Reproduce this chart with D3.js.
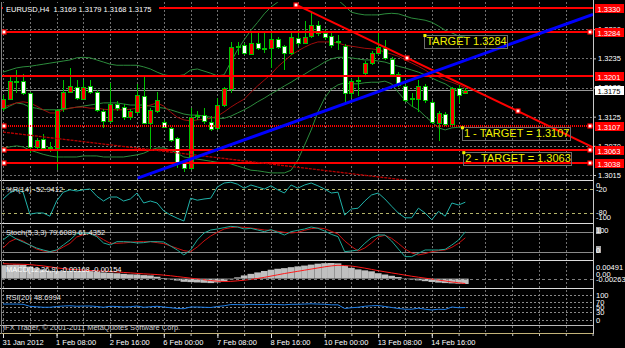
<!DOCTYPE html>
<html>
<head>
<meta charset="utf-8">
<script src="https://d3js.org/d3.v7.min.js"></script>
<style>
  html, body { margin: 0; padding: 0; background: #000; }
  svg { display: block; }
  text { font-family: "Liberation Sans", Arial, sans-serif; font-size: 7.5px; }
</style>
</head>
<body>
<svg id="chart" width="625" height="348"></svg>
<script>
'use strict';

/* Data: EURUSD H4, one entry per bar (31 Jan 2012 00:00 onwards) */
var opens = [1.3141,1.3158,1.3192,1.3192,1.3170,1.3068,1.3083,1.3066,1.3066,1.3141,
  1.3172,1.3181,1.3158,1.3183,1.3172,1.3136,1.3117,1.3149,1.3143,1.3124,
  1.3134,1.3164,1.3113,1.3136,1.3115,1.3104,1.3085,1.3039,1.3028,1.3126,
  1.3128,1.3115,1.3104,1.3147,1.3177,1.3256,1.3260,1.3243,1.3264,1.3255,
  1.3255,1.3272,1.3258,1.3245,1.3273,1.3264,1.3277,1.3298,1.3283,1.3277,
  1.3268,1.3258,1.3170,1.3192,1.3207,1.3226,1.3245,1.3255,1.3234,1.3205,
  1.3183,1.3160,1.3158,1.3183,1.3153,1.3113,1.3130,1.3111,1.3179,1.3169];
var highs = [1.3166,1.3200,1.3213,1.3205,1.3172,1.3085,1.3092,1.3077,1.3140,1.3194,
  1.3217,1.3194,1.3194,1.3194,1.3175,1.3140,1.3189,1.3155,1.3149,1.3140,
  1.3187,1.3200,1.3141,1.3172,1.3119,1.3106,1.3087,1.3043,1.3141,1.3136,
  1.3141,1.3126,1.3160,1.3181,1.3266,1.3266,1.3264,1.3285,1.3285,1.3283,
  1.3285,1.3275,1.3260,1.3283,1.3289,1.3305,1.3322,1.3305,1.3290,1.3285,
  1.3279,1.3262,1.3196,1.3202,1.3230,1.3249,1.3283,1.3270,1.3238,1.3209,
  1.3187,1.3170,1.3194,1.3187,1.3157,1.3136,1.3134,1.3181,1.3185,1.3179];
var lows = [1.3136,1.3156,1.3170,1.3166,1.3056,1.3064,1.3062,1.3058,1.3024,1.3134,
  1.3170,1.3156,1.3156,1.3168,1.3134,1.3104,1.3113,1.3136,1.3119,1.3119,
  1.3130,1.3111,1.3062,1.3132,1.3104,1.3077,1.3028,1.3021,1.3024,1.3119,
  1.3111,1.3098,1.3100,1.3143,1.3170,1.3241,1.3241,1.3241,1.3250,1.3245,
  1.3217,1.3252,1.3213,1.3241,1.3258,1.3262,1.3273,1.3277,1.3270,1.3255,
  1.3251,1.3153,1.3160,1.3164,1.3203,1.3222,1.3241,1.3232,1.3200,1.3181,
  1.3153,1.3143,1.3134,1.3151,1.3111,1.3079,1.3107,1.3107,1.3151,1.3168];
var closes = [1.3158,1.3192,1.3190,1.3170,1.3068,1.3081,1.3066,1.3068,1.3138,1.3172,
  1.3183,1.3160,1.3181,1.3172,1.3138,1.3117,1.3149,1.3141,1.3124,1.3136,
  1.3166,1.3113,1.3138,1.3156,1.3106,1.3081,1.3039,1.3028,1.3124,1.3128,
  1.3117,1.3102,1.3147,1.3179,1.3256,1.3258,1.3245,1.3264,1.3255,1.3253,
  1.3272,1.3256,1.3245,1.3275,1.3264,1.3275,1.3298,1.3283,1.3275,1.3260,
  1.3266,1.3170,1.3192,1.3194,1.3226,1.3245,1.3256,1.3236,1.3205,1.3185,
  1.3156,1.3158,1.3183,1.3156,1.3115,1.3132,1.3111,1.3179,1.3166,1.3175];

var bbUpper = [1.3209,1.3213,1.3217,1.3219,1.3220,1.3222,1.3224,1.3226,1.3228,1.3230,
  1.3232,1.3236,1.3237,1.3236,1.3232,1.3228,1.3224,1.3222,1.3222,1.3222,
  1.3222,1.3219,1.3215,1.3209,1.3204,1.3202,1.3202,1.3204,1.3213,1.3215,
  1.3211,1.3207,1.3202,1.3204,1.3228,1.3251,1.3270,1.3288,1.3303,1.3319,
  1.3332,1.3341,1.3351,1.3356,1.3360,1.3360,1.3358,1.3356,1.3356,1.3351,
  1.3345,1.3334,1.3322,1.3319,1.3317,1.3317,1.3317,1.3319,1.3320,1.3319,
  1.3315,1.3311,1.3309,1.3307,1.3303,1.3296,1.3288,1.3283,1.3277,1.3275];
var bbLower = [1.3066,1.3068,1.3070,1.3068,1.3062,1.3058,1.3054,1.3051,1.3049,1.3049,
  1.3049,1.3049,1.3051,1.3051,1.3051,1.3049,1.3049,1.3049,1.3049,1.3051,
  1.3053,1.3056,1.3062,1.3066,1.3066,1.3062,1.3056,1.3049,1.3047,1.3045,
  1.3043,1.3041,1.3039,1.3038,1.3036,1.3032,1.3028,1.3024,1.3023,1.3021,
  1.3019,1.3019,1.3019,1.3024,1.3043,1.3071,1.3100,1.3134,1.3160,1.3177,
  1.3185,1.3189,1.3187,1.3187,1.3189,1.3190,1.3190,1.3192,1.3187,1.3171,
  1.3156,1.3145,1.3138,1.3126,1.3115,1.3104,1.3100,1.3104,1.3105,1.3105];
var maRed = [1.3143,1.3147,1.3151,1.3153,1.3151,1.3145,1.3138,1.3132,1.3132,1.3138,
  1.3141,1.3143,1.3143,1.3141,1.3141,1.3139,1.3138,1.3138,1.3138,1.3139,
  1.3141,1.3143,1.3147,1.3151,1.3145,1.3134,1.3124,1.3119,1.3117,1.3119,
  1.3120,1.3122,1.3126,1.3134,1.3143,1.3151,1.3158,1.3171,1.3183,1.3194,
  1.3205,1.3219,1.3230,1.3241,1.3249,1.3256,1.3262,1.3266,1.3266,1.3266,
  1.3264,1.3260,1.3258,1.3256,1.3254,1.3253,1.3251,1.3247,1.3243,1.3239,
  1.3232,1.3226,1.3220,1.3213,1.3205,1.3200,1.3194,1.3190,1.3185,1.3179];
var maGreen = [1.3138,1.3145,1.3151,1.3149,1.3143,1.3141,1.3138,1.3138,1.3138,1.3139,
  1.3141,1.3143,1.3145,1.3147,1.3149,1.3151,1.3151,1.3151,1.3149,1.3147,
  1.3147,1.3147,1.3145,1.3143,1.3141,1.3138,1.3134,1.3130,1.3128,1.3128,
  1.3126,1.3124,1.3122,1.3122,1.3126,1.3132,1.3138,1.3145,1.3153,1.3160,
  1.3168,1.3175,1.3183,1.3190,1.3198,1.3205,1.3213,1.3220,1.3228,1.3234,
  1.3237,1.3237,1.3236,1.3234,1.3232,1.3232,1.3230,1.3228,1.3224,1.3220,
  1.3217,1.3213,1.3209,1.3204,1.3198,1.3192,1.3187,1.3179,1.3173,1.3170];

var wpr = [-45,-30,-22,-28,-83,-80,-80,-88,-50,-28,
  -22,-25,-22,-20,-38,-50,-40,-40,-50,-45,
  -30,-55,-50,-55,-75,-85,-93,-100,-43,-48,
  -45,-43,-15,-5,-3,-8,-18,-10,-15,-20,
  -12,-22,-30,-10,-18,-10,-5,-12,-20,-30,
  -28,-85,-70,-68,-50,-35,-30,-45,-63,-80,
  -92,-92,-68,-80,-97,-76,-88,-55,-60,-52.94];
var stochK = [55,70,58,49,40,31,25,20,25,40,
  55,74,76,74,65,46,40,50,50,49,
  46,47,50,50,49,37,25,10,25,55,
  76,85,88,92,96,94,88,90,85,80,
  86,78,70,80,84,88,94,90,82,72,
  65,20,22,25,45,62,70,70,52,28,
  5,5,15,25,25,25,27,40,55,79.61];
var stochD = [31,50,59,52,40,28,22,20,23,34,
  45,64,71,75,68,56,45,45,46,48,
  50,50,50,47,44,37,30,23,20,34,
  52,67,78,88,92,94,93,91,88,85,
  84,81,78,76,78,84,89,91,89,81,
  73,52,36,22,31,46,64,69,60,45,
  28,16,10,14,20,23,25,33,45,61.44];
var macdMain = [0.00420,0.00430,0.00440,0.00430,0.00380,0.00330,0.00290,0.00250,0.00240,0.00240,
  0.00245,0.00240,0.00240,0.00235,0.00220,0.00195,0.00185,0.00170,0.00150,0.00135,
  0.00130,0.00110,0.00100,0.00060,0.00020,-0.00020,-0.00060,-0.00100,-0.00110,-0.00120,
  -0.00130,-0.00140,-0.00120,-0.00090,-0.00020,0.00040,0.00100,0.00150,0.00195,0.00240,
  0.00280,0.00310,0.00330,0.00360,0.00385,0.00410,0.00440,0.00470,0.00485,0.00491,
  0.00480,0.00400,0.00340,0.00290,0.00260,0.00230,0.00170,0.00130,0.00090,0.00050,
  0.00010,-0.00025,-0.00055,-0.00080,-0.00105,-0.00125,-0.00140,-0.00150,-0.00160,-0.00168];
var macdSignal = [0.00470,0.00460,0.00455,0.00450,0.00440,0.00420,0.00400,0.00370,0.00340,0.00315,
  0.00295,0.00280,0.00268,0.00255,0.00245,0.00235,0.00222,0.00210,0.00195,0.00180,
  0.00165,0.00150,0.00140,0.00128,0.00110,0.00090,0.00065,0.00040,0.00015,-0.00010,
  -0.00035,-0.00060,-0.00080,-0.00090,-0.00085,-0.00070,-0.00050,-0.00025,0.00005,0.00040,
  0.00080,0.00120,0.00160,0.00195,0.00230,0.00265,0.00300,0.00335,0.00370,0.00400,
  0.00420,0.00410,0.00395,0.00365,0.00330,0.00290,0.00250,0.00215,0.00180,0.00145,
  0.00110,0.00075,0.00045,0.00015,-0.00015,-0.00045,-0.00075,-0.00105,-0.00130,-0.00154];
var rsi = [63,63,63,62,54,52,50,50,53,55,
  56,54,55,55,53,50,54,53,51,52,
  55,50,52,54,51,48,45,44,51,51,
  50,49,53,56,61,61,60,62,61,61,
  62,61,60,62,62,63,64,63,62,60,
  60,45,48,50,54,56,57,53,49,45,
  42,42,46,42,39,42,41,51,48,48.7];

var timeLabels = ["31 Jan 2012","1 Feb 08:00","2 Feb 16:00","6 Feb 00:00","7 Feb 08:00",
  "8 Feb 16:00","10 Feb 00:00","13 Feb 08:00","14 Feb 16:00"];
var timeLabelBars = [0, 8, 16, 24, 32, 40, 48, 56, 64];
var priceTicks = [1.3015, 1.3070, 1.3125, 1.3180, 1.3235, 1.3290];
var levelPrices = [1.3330, 1.3284, 1.3201, 1.3107, 1.3063, 1.3038];
var levelDotted = [false, false, false, true, false, false];
var levelMarked = [false, true, false, true, true, true];
var lastPrice = 1.3175;
var trendBlue = [[20.1, 1.3009], [88.06, 1.3318]];
var trendRed = [[43.8, 1.3336], [76.9, 1.3135]];
var trendThin = [[0, 1.3096], [56.3, 1.3011]];
var targetTexts = ["TARGET 1.3284", "1 - TARGET = 1.3107", "2 - TARGET = 1.3063"];
var targetBars = [62.9, 68.5, 68.7];
var targetPrices = [1.3279, 1.3105, 1.3058];

/* Scales */
var RIGHT = 593;
var svg = d3.select("#chart");
svg.append("rect").attr("width", 625).attr("height", 348).attr("fill", "#000");

var x = d3.scaleLinear().domain([0, 88]).range([3, 592.6]);
var y = d3.scaleLinear().domain([1.3015, 1.3330]).range([175, 8]);
var yWpr = d3.scaleLinear().domain([-100, 0]).range([221, 181]);
var ySto = d3.scaleLinear().domain([0, 100]).range([258.3, 225]);
var yMacd = d3.scaleLinear().domain([-0.00263, 0.00491]).range([287, 263]);
var yRsi = d3.scaleLinear().domain([0, 100]).range([319.5, 295]);
var px = function(i) { return Math.round(x(i)) + 0.5; };
var crisp = function(v) { return Math.round(v) + 0.5; };

var defs = svg.append("defs");
function clip(id, y0, y1) {
  defs.append("clipPath").attr("id", id).append("rect")
    .attr("x", 2).attr("y", y0).attr("width", RIGHT - 2).attr("height", y1 - y0);
}
clip("cMain", 2, 180); clip("cWpr", 181, 223); clip("cSto", 224, 260);
clip("cMacd", 261, 288); clip("cRsi", 289, 333);

/* Grid */
var grid = svg.append("g").attr("stroke", "#707070").attr("stroke-dasharray", "2,2")
  .attr("shape-rendering", "crispEdges");
grid.selectAll("line.v").data(d3.range(0, 89, 4)).join("line").attr("class", "v")
  .attr("x1", px).attr("x2", px).attr("y1", 2).attr("y2", 333);
grid.selectAll("line.h").data(priceTicks).join("line").attr("class", "h")
  .attr("x1", 2).attr("x2", RIGHT)
  .attr("y1", function(d) { return crisp(y(d)); }).attr("y2", function(d) { return crisp(y(d)); });

/* Main window */
var gMain = svg.append("g").attr("clip-path", "url(#cMain)");
function series(g, arr, sy, color, w) {
  g.append("path").datum(arr)
    .attr("fill", "none").attr("stroke", color).attr("stroke-width", w || 1)
    .attr("d", d3.line().x(function(d, i) { return x(i); }).y(function(d) { return sy(d); }));
}

gMain.append("line").attr("x1", 2).attr("x2", RIGHT)
  .attr("y1", crisp(y(lastPrice))).attr("y2", crisp(y(lastPrice)))
  .attr("stroke", "#9a9a9a").attr("shape-rendering", "crispEdges");

series(gMain, bbUpper, y, "#2c8c3c");
series(gMain, bbLower, y, "#2c8c3c");
series(gMain, maGreen, y, "#2c8c3c");
series(gMain, maRed, y, "#a00c0c");

var bars = opens.map(function(o, i) {
  return { i: i, o: o, h: highs[i], l: lows[i], c: closes[i] };
});
var gBars = gMain.append("g").attr("shape-rendering", "crispEdges");
gBars.selectAll("line").data(bars).join("line")
  .attr("x1", function(d) { return px(d.i); }).attr("x2", function(d) { return px(d.i); })
  .attr("y1", function(d) { return Math.round(y(d.h)); })
  .attr("y2", function(d) { return Math.round(y(d.l)); })
  .attr("stroke", "#00c000");
gBars.selectAll("rect").data(bars).join("rect")
  .attr("x", function(d) { return Math.round(x(d.i)) - 1.5; })
  .attr("y", function(d) { return Math.round(y(Math.max(d.o, d.c))) + 0.5; })
  .attr("width", 4)
  .attr("height", function(d) {
    return Math.max(0.01, Math.round(y(Math.min(d.o, d.c))) - Math.round(y(Math.max(d.o, d.c))));
  })
  .attr("fill", function(d) { return d.c >= d.o ? "#ff0000" : "#ffffff"; })
  .attr("stroke", "#00c000");

/* Objects: horizontal levels, trend lines, marks */
var gObj = svg.append("g").attr("clip-path", "url(#cMain)");
levelPrices.forEach(function(p, k) {
  gObj.append("line").attr("x1", 2).attr("x2", RIGHT)
    .attr("y1", Math.round(y(p))).attr("y2", Math.round(y(p)))
    .attr("stroke", "#ff0000").attr("stroke-width", 2)
    .attr("stroke-dasharray", levelDotted[k] ? "1,1" : null);
});

function ray(t, color, w, dash) {
  var i1 = t[0][0], p1 = t[0][1], i2 = t[1][0], p2 = t[1][1];
  var iEnd = x.invert(RIGHT);
  var pEnd = p1 + (p2 - p1) * (iEnd - i1) / (i2 - i1);
  gObj.append("line")
    .attr("x1", x(i1)).attr("y1", y(p1)).attr("x2", x(iEnd)).attr("y2", y(pEnd))
    .attr("stroke", color).attr("stroke-width", w).attr("stroke-dasharray", dash || null);
}
ray(trendThin, "#b80000", 1.3, "3,1");
ray(trendRed, "#ff0000", 2);
ray(trendBlue, "#0000ff", 3);

function mark(cx, cy) {
  gObj.append("rect").attr("x", Math.round(cx) - 2).attr("y", Math.round(cy) - 2)
    .attr("width", 4).attr("height", 4).attr("fill", "#ffffff")
    .attr("stroke", "#ff0000").attr("stroke-width", 1.2);
}
levelPrices.forEach(function(p, k) {
  if (!levelMarked[k]) return;
  mark(4, y(p));
  mark(590, y(p));
});
var tMid = [(trendRed[0][0] + trendRed[1][0]) / 2, (trendRed[0][1] + trendRed[1][1]) / 2];
[trendRed[0], tMid, trendRed[1]].forEach(function(a) { mark(x(a[0]), y(a[1])); });

/* Text objects */
targetTexts.forEach(function(t, k) {
  var tx = x(targetBars[k]), ty = y(targetPrices[k]);
  var txt = gObj.append("text").attr("x", tx + 2).attr("y", ty + 10)
    .attr("fill", "#f2f200").style("font-size", "11px").text(t);
  var w = txt.node().getComputedTextLength();
  gObj.insert("rect", "text").attr("x", crisp(tx)).attr("y", crisp(ty))
    .attr("width", Math.round(w + 3)).attr("height", 13)
    .attr("fill", "none").attr("stroke", "#6c6c6c");
  gObj.append("rect").attr("x", tx - 1).attr("y", ty - 1).attr("width", 3).attr("height", 3)
    .attr("fill", "#f2f200");
});

/* Price scale */
var axR = svg.append("g").attr("transform", "translate(" + RIGHT + ",0)")
  .call(d3.axisRight(y).tickValues(priceTicks).tickSize(3).tickFormat(d3.format(".4f")));
axR.select(".domain").remove();
axR.selectAll("line").attr("stroke", "#c8c8c8");
axR.selectAll("text").attr("fill", "#ffffff").attr("x", 5).style("font-size", "7.5px")
  .style("font-family", "Liberation Sans, Arial, sans-serif");

var tags = levelPrices.concat([lastPrice]);
tags.forEach(function(p) {
  var cy = Math.round(y(p));
  var cur = p === lastPrice;
  svg.append("rect").attr("x", 595).attr("y", cy - 4).attr("width", 29).attr("height", 9)
    .attr("fill", cur ? "#ffffff" : "#ff0000");
  svg.append("text").attr("x", 597.5).attr("y", cy + 3.5)
    .attr("fill", cur ? "#000000" : "#ffffff").text(d3.format(".4f")(p));
});

/* Williams %R */
var gW = svg.append("g");
[-20, -80].forEach(function(v) {
  gW.append("line").attr("x1", 2).attr("x2", RIGHT).attr("y1", crisp(yWpr(v))).attr("y2", crisp(yWpr(v)))
    .attr("stroke", "#b4b46a").attr("stroke-dasharray", "3,3").attr("shape-rendering", "crispEdges");
});
series(gW.append("g").attr("clip-path", "url(#cWpr)"), wpr, yWpr, "#20b2aa");
gW.append("text").attr("x", 6).attr("y", 192).attr("fill", "#e8e8e8").text("%R(14) -52.9412");
[["0", 188], ["-20", 192], ["-80", 215], ["-100", 219.5]].forEach(function(l) {
  gW.append("text").attr("x", 596).attr("y", l[1]).attr("fill", "#ffffff").text(l[0]);
});

/* Stochastic */
var gS = svg.append("g");
[20, 80].forEach(function(v) {
  gS.append("line").attr("x1", 2).attr("x2", RIGHT).attr("y1", crisp(ySto(v))).attr("y2", crisp(ySto(v)))
    .attr("stroke", "#8a8a8a").attr("shape-rendering", "crispEdges");
});
var gSc = gS.append("g").attr("clip-path", "url(#cSto)");
series(gSc, stochD, ySto, "#cc1010");
series(gSc, stochK, ySto, "#1ea896");
gS.append("text").attr("x", 6).attr("y", 235).attr("fill", "#e8e8e8").text("Stoch(5,3,3) 79.6089 61.4352");
gS.append("rect").attr("x", 596).attr("y", 227).attr("width", 5).attr("height", 7).attr("fill", "#a8a8a8");
gS.append("rect").attr("x", 596).attr("y", 246).attr("width", 5).attr("height", 7).attr("fill", "#a8a8a8");
[["100", 233], ["0", 252.5]].forEach(function(l) {
  gS.append("text").attr("x", 596).attr("y", l[1]).attr("fill", "#ffffff").text(l[0]);
});

/* MACD */
var gM = svg.append("g");
var gMc = gM.append("g").attr("clip-path", "url(#cMacd)");
gMc.selectAll("rect").data(macdMain).join("rect")
  .attr("x", function(d, i) { return x(i) - 3.35; }).attr("width", 6.7)
  .attr("y", function(d) { return yMacd(Math.max(0, d)); })
  .attr("height", function(d) { return Math.abs(yMacd(d) - yMacd(0)); })
  .attr("fill", "#c0c0c0");
gM.append("line").attr("x1", 2).attr("x2", RIGHT).attr("y1", crisp(yMacd(0))).attr("y2", crisp(yMacd(0)))
  .attr("stroke", "#808080").attr("stroke-dasharray", "3,3").attr("shape-rendering", "crispEdges");
series(gMc, macdSignal, yMacd, "#ff1a1a");
gM.append("text").attr("x", 6).attr("y", 272).attr("fill", "#ffffff")
  .text("MACD(12,26,9) -0.00168 -0.00154");
[["0.00491", 270], ["0.00", 277], ["-0.00263", 282]].forEach(function(l) {
  gM.append("text").attr("x", 596).attr("y", l[1]).attr("fill", "#ffffff").text(l[0]);
});

/* RSI */
var gR = svg.append("g");
[100, 70, 50, 30, 0].forEach(function(v) {
  gR.append("line").attr("x1", 2).attr("x2", RIGHT).attr("y1", crisp(yRsi(v))).attr("y2", crisp(yRsi(v)))
    .attr("stroke", "#8a8a8a").attr("stroke-dasharray", "2,2").attr("shape-rendering", "crispEdges");
});
series(gR.append("g").attr("clip-path", "url(#cRsi)"), rsi, yRsi, "#1e7ee8");
gR.append("text").attr("x", 6).attr("y", 300).attr("fill", "#e8e8e8").text("RSI(20) 48.6994");
[100, 70, 50, 30, 0].forEach(function(v) {
  gR.append("text").attr("x", 596).attr("y", yRsi(v) + 3).attr("fill", "#ffffff").text(v);
});
svg.append("text").attr("x", 3).attr("y", 329.5).attr("fill", "#d0d0d0")
  .text("IFX Trader, \u00a9 2001-2011 MetaQuotes Software Corp.");

/* Frame and separators */
var frame = svg.append("g").attr("shape-rendering", "crispEdges");
[180.5, 223.5, 260.5, 288.5].forEach(function(v) {
  frame.append("line").attr("x1", 0).attr("x2", RIGHT).attr("y1", v).attr("y2", v)
    .attr("stroke", "#dcdcdc").attr("stroke-width", 1.5);
});
frame.append("line").attr("x1", 0).attr("x2", RIGHT).attr("y1", 325.5).attr("y2", 325.5).attr("stroke", "#b8b8b8");
frame.append("line").attr("x1", 0).attr("x2", RIGHT).attr("y1", 333.5).attr("y2", 333.5).attr("stroke", "#c4b47a");
frame.append("line").attr("x1", RIGHT + 0.5).attr("x2", RIGHT + 0.5).attr("y1", 0).attr("y2", 334).attr("stroke", "#c8c8c8");
frame.append("line").attr("x1", 1.5).attr("x2", 1.5).attr("y1", 2).attr("y2", 334).attr("stroke", "#808080");

/* Time axis */
var axMinor = svg.append("g").attr("transform", "translate(0,334)")
  .call(d3.axisBottom(x).tickValues(d3.range(0, 89, 4)).tickSize(2).tickFormat(""));
axMinor.select(".domain").remove();
axMinor.selectAll("line").attr("stroke", "#c8c8c8");
var axB = svg.append("g").attr("transform", "translate(0,334)")
  .call(d3.axisBottom(x).tickValues(timeLabelBars).tickSize(4)
    .tickFormat(function(d, k) { return timeLabels[k]; }));
axB.select(".domain").remove();
axB.selectAll("line").attr("stroke", "#e0e0e0");
axB.selectAll("text").attr("fill", "#ffffff").attr("text-anchor", "start").attr("x", -1).attr("y", 6)
  .style("font-size", "7.5px").style("font-family", "Liberation Sans, Arial, sans-serif");

/* Header */
svg.append("rect").attr("x", 3).attr("y", 3).attr("width", 156).attr("height", 11).attr("fill", "#000");
svg.append("text").attr("x", 6).attr("y", 11.5).attr("fill", "#ffffff")
  .style("white-space", "pre").text("EURUSD,H4  1.3169 1.3179 1.3168 1.3175");
</script>
</body>
</html>
